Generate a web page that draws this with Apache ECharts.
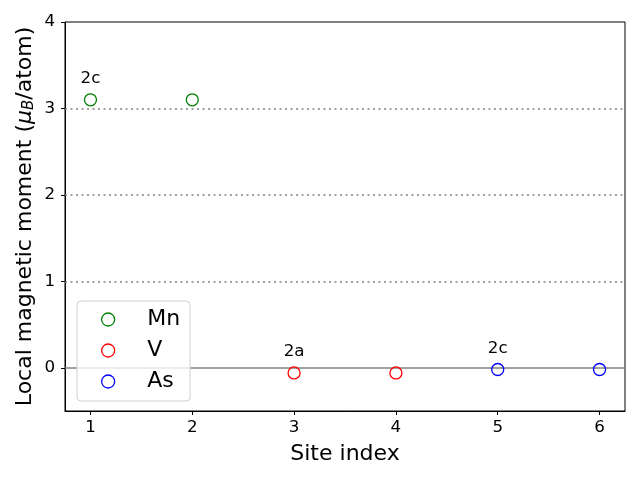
<!DOCTYPE html>
<html><head><meta charset="utf-8">
<script src="https://cdn.jsdelivr.net/npm/echarts@6/dist/echarts.min.js"></script>
<style>html,body{margin:0;padding:0;background:#fff}#c{width:640px;height:480px}</style>
</head><body><div id="c"></div>
<script>
const seriesNames = ['Mn', 'V', 'As'];
const seriesColors = ['#008000', '#ff0000', '#0000ff'];
const mnSites = [1, 2];
const mnValues = [3.1, 3.1];
const vSites = [3, 4];
const vValues = [-0.06, -0.06];
const asSites = [5, 6];
const asValues = [-0.02, -0.02];
// annotation: [series index, point index, text]
const annotations = [[0, 0, '2c'], [1, 0, '2a'], [2, 0, '2c']];
const xTicks = [1, 2, 3, 4, 5, 6];
const yTicks = [0, 1, 2, 3, 4];
const gridLevels = [1, 2, 3];

const FONT = 'DejaVu Sans';
const sites = [mnSites, vSites, asSites];
const vals = [mnValues, vValues, asValues];

const series = seriesNames.map((name, si) => {
  const data = sites[si].map((x, i) => {
    const item = { value: [x, vals[si][i]] };
    const ann = annotations.find(a => a[0] === si && a[1] === i);
    if (ann) {
      item.label = { show: true, formatter: ann[2], position: 'top', distance: 6,
        color: '#000', fontSize: 16.7, fontFamily: FONT, opacity: 1 };
    }
    return item;
  });
  const s = {
    name, type: 'scatter', symbol: 'circle', symbolSize: 12,
    itemStyle: { color: 'rgba(255,255,255,0)', borderColor: seriesColors[si], borderWidth: 1.3, opacity: 1 },
    data, z: 5
  };
  if (si === 0) {
    s.markLine = {
      silent: true, symbol: 'none', label: { show: false }, animation: false,
      data: gridLevels.map(v => ({ yAxis: v, lineStyle: { color: '#808080', type: [2, 3.5], width: 1.5 } }))
        .concat([{ yAxis: 0, lineStyle: { color: '#808080', type: 'solid', width: 1.5 } }])
    };
  }
  return s;
});

const chart = echarts.init(document.getElementById('c'), null, { renderer: 'canvas' });
chart.setOption({
  animation: false,
  textStyle: { fontFamily: FONT },
  grid: { left: 65, right: 15, top: 22, bottom: 69, show: true, borderColor: '#000', borderWidth: 1, backgroundColor: 'transparent' },
  xAxis: {
    type: 'value', min: 0.75, max: 6.25,
    name: 'Site index', nameLocation: 'middle', nameGap: 32, nameMoveOverlap: false,
    nameTextStyle: { fontSize: 22, color: '#000', fontFamily: FONT },
    axisLine: { onZero: false, lineStyle: { color: '#000' } },
    axisTick: { show: true, length: 4, inside: false, customValues: xTicks, lineStyle: { color: '#000' } },
    axisLabel: { customValues: xTicks, fontSize: 16.7, color: '#000', margin: 8, fontFamily: FONT },
    splitLine: { show: false }
  },
  yAxis: {
    type: 'value', min: -0.5, max: 4,
    name: 'Local magnetic moment ({i|μ}{sub|B}/atom)', nameLocation: 'middle', nameGap: 28, nameMoveOverlap: false,
    nameTextStyle: { fontSize: 22, color: '#000', fontFamily: FONT,
      rich: { i: { fontSize: 22, fontStyle: 'italic', fontFamily: FONT, color: '#000' },
              sub: { fontSize: 15, fontStyle: 'italic', fontFamily: FONT, color: '#000', verticalAlign: 'bottom', padding: [8, 0, 0, 0] } } },
    axisLine: { onZero: false, lineStyle: { color: '#000' } },
    axisTick: { show: true, length: 4, inside: false, customValues: yTicks, lineStyle: { color: '#000' } },
    axisLabel: { customValues: yTicks, fontSize: 16.7, color: '#000', margin: 10, fontFamily: FONT },
    splitLine: { show: false }
  },
  legend: {
    orient: 'vertical', left: 77, top: 301,
    padding: [6, 10, 7, 24],
    itemWidth: 26, itemHeight: 13, itemGap: 6, icon: 'circle',
    itemStyle: { color: 'rgba(255,255,255,0)', borderWidth: 1.3 },
    backgroundColor: 'rgba(255,255,255,0.8)', borderColor: '#d0d0d0', borderWidth: 1, borderRadius: 4,
    textStyle: { fontSize: 22, color: '#000', fontFamily: FONT, padding: [0, 0, 0, 21], lineHeight: 25 },
    data: seriesNames,
    z: 10
  },
  series
});
</script></body></html>
